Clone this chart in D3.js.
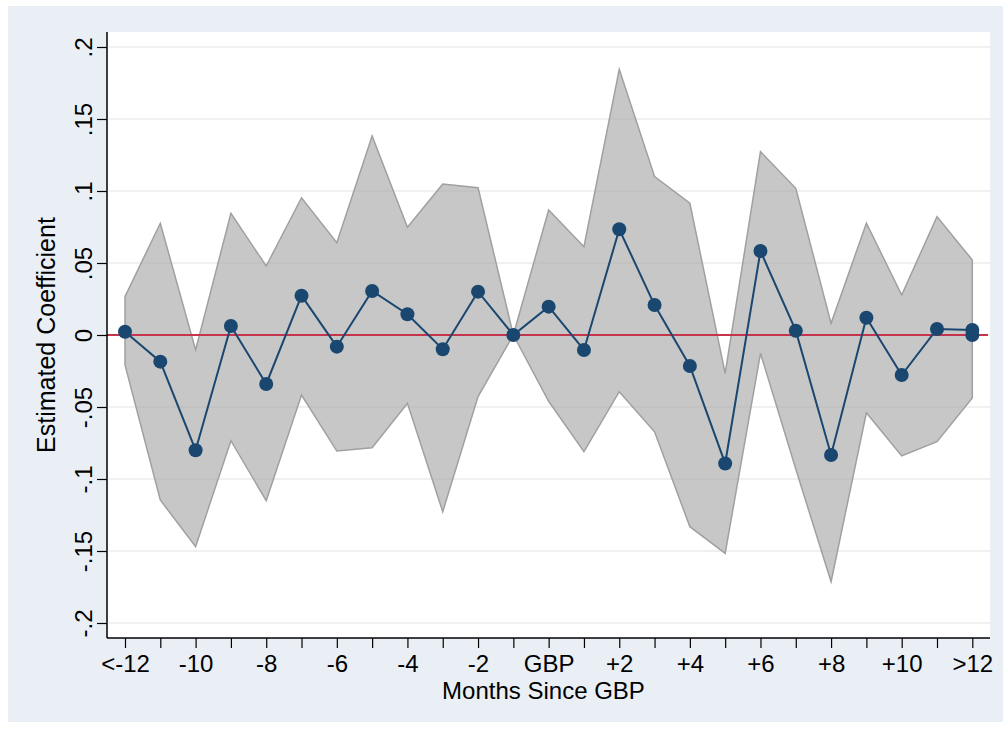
<!DOCTYPE html>
<html>
<head>
<meta charset="utf-8">
<script src="https://cdn.jsdelivr.net/npm/d3@7"></script>
<style>
  body { margin: 0; background: #fff; }
  svg text { font-family: "Liberation Sans", Arial, sans-serif; fill: #000; }
</style>
</head>
<body>
<svg width="1003" height="732"></svg>
<script>
// categories (months relative to GBP)
const months = ['<-12','-11','-10','-9','-8','-7','-6','-5','-4','-3','-2','-1','GBP',
                '+1','+2','+3','+4','+5','+6','+7','+8','+9','+10','+11','>12'];
// labels shown on the x axis
const monthLabels = ['<-12','-10','-8','-6','-4','-2','GBP','+2','+4','+6','+8','+10','>12'];

// estimated coefficients
const coef = [0.0023, -0.0185, -0.080, 0.0063, -0.034, 0.0273, -0.0081, 0.0306, 0.0144, -0.0099,
              0.0301, 0, 0.0197, -0.0104, 0.0734, 0.0208, -0.0215, -0.0892, 0.0583, 0.003,
              -0.0833, 0.012, -0.0278, 0.0042, 0.0035];
// confidence interval bounds
const upper = [0.0266, 0.0776, -0.0104, 0.0845, 0.0479, 0.0953, 0.0641, 0.1382, 0.0748, 0.1049,
               0.1023, 0, 0.0868, 0.0613, 0.1845, 0.110, 0.0915, -0.0266, 0.1273, 0.1019,
               0.0081, 0.0776, 0.0278, 0.0822, 0.0521];
const lower = [-0.0208, -0.1146, -0.147, -0.0734, -0.1151, -0.0417, -0.0806, -0.0783, -0.0474, -0.1227,
               -0.0428, 0, -0.046, -0.081, -0.0394, -0.0672, -0.1331, -0.1516, -0.0127, -0.0931,
               -0.1713, -0.054, -0.084, -0.0741, -0.0438];
// an extra marker sitting on the zero line at the last category
const extraPts = [{month: '>12', value: 0}];

const yTicks = [-0.2, -0.15, -0.1, -0.05, 0, 0.05, 0.1, 0.15, 0.2];

const svg = d3.select('svg');

// plot region box
const plot = {left: 107, right: 990, top: 32, bottom: 638};

const x = d3.scalePoint().domain(months).range([125, 972.3]);
const y = d3.scaleLinear().domain([-0.2, 0.2]).range([623, 47]);

// outer background
svg.append('rect')
    .attr('x', 8).attr('y', 6).attr('width', 995).attr('height', 716)
    .attr('fill', '#e9eff5');

svg.append('rect')
    .attr('x', plot.left).attr('y', plot.top)
    .attr('width', plot.right - plot.left).attr('height', plot.bottom - plot.top)
    .attr('fill', '#fff');

// grid lines
svg.append('g').selectAll('line').data(yTicks).join('line')
    .attr('x1', plot.left + 2).attr('x2', plot.right)
    .attr('y1', d => y(d)).attr('y2', d => y(d))
    .attr('stroke', '#ebebeb').attr('stroke-width', 1.5);

const rows = months.map((m, i) => ({month: m, coef: coef[i], lo: lower[i], hi: upper[i]}));

// confidence band
const band = d3.area()
    .x(d => x(d.month))
    .y0(d => y(d.lo))
    .y1(d => y(d.hi));

svg.append('path')
    .datum(rows)
    .attr('d', band)
    .attr('fill', '#adadad').attr('fill-opacity', 0.68)
    .attr('stroke', '#a0a0a0').attr('stroke-width', 1.5);

// zero reference line
svg.append('line')
    .attr('x1', plot.left).attr('x2', plot.right - 2)
    .attr('y1', y(0)).attr('y2', y(0))
    .attr('stroke', '#c4354d').attr('stroke-width', 2);

// coefficient line
const line = d3.line().x(d => x(d.month)).y(d => y(d.coef));
svg.append('path')
    .datum(rows)
    .attr('d', line)
    .attr('fill', 'none')
    .attr('stroke', '#1a476f').attr('stroke-width', 2);

svg.append('g').selectAll('circle').data(rows).join('circle')
    .attr('cx', d => x(d.month)).attr('cy', d => y(d.coef))
    .attr('r', 7).attr('fill', '#1a476f');

svg.append('g').selectAll('circle').data(extraPts).join('circle')
    .attr('cx', d => x(d.month)).attr('cy', d => y(d.value))
    .attr('r', 7).attr('fill', '#1a476f');

// y axis
const yAxis = svg.append('g')
    .attr('transform', `translate(${plot.left},0)`)
    .call(d3.axisLeft(y).tickValues(yTicks).tickSize(10).tickSizeOuter(0)
        .tickFormat(d => d === 0 ? '0' : String(d).replace('0.', '.')));
yAxis.select('.domain').remove();
yAxis.selectAll('line').attr('stroke', '#000').attr('stroke-width', 1.2);
yAxis.selectAll('text')
    .attr('transform', 'rotate(-90)')
    .attr('x', 0).attr('y', -15).attr('dy', 0)
    .attr('text-anchor', 'middle')
    .style('font-size', '24px');

// x axis
const xAxis = svg.append('g')
    .attr('transform', `translate(0,${plot.bottom})`)
    .call(d3.axisBottom(x).tickSize(10).tickSizeOuter(0)
        .tickFormat(d => monthLabels.includes(d) ? d : ''));
xAxis.select('.domain').remove();
xAxis.selectAll('line').attr('stroke', '#000').attr('stroke-width', 1.2);
xAxis.selectAll('text')
    .attr('y', 34).attr('dy', 0)
    .style('font-size', '24px');

// axis lines
svg.append('line')
    .attr('x1', plot.left).attr('x2', plot.left)
    .attr('y1', plot.top).attr('y2', plot.bottom)
    .attr('stroke', '#000').attr('stroke-width', 1.5);
svg.append('line')
    .attr('x1', plot.left).attr('x2', plot.right)
    .attr('y1', plot.bottom).attr('y2', plot.bottom)
    .attr('stroke', '#000').attr('stroke-width', 1.5);

// axis titles
svg.append('text')
    .attr('x', (plot.left + plot.right) / 2 - 5).attr('y', 699)
    .attr('text-anchor', 'middle')
    .style('font-size', '24px')
    .text('Months Since GBP');

svg.append('text')
    .attr('transform', `translate(55,${y(0)}) rotate(-90)`)
    .attr('text-anchor', 'middle')
    .style('font-size', '25px')
    .text('Estimated Coefficient');
</script>
</body>
</html>
